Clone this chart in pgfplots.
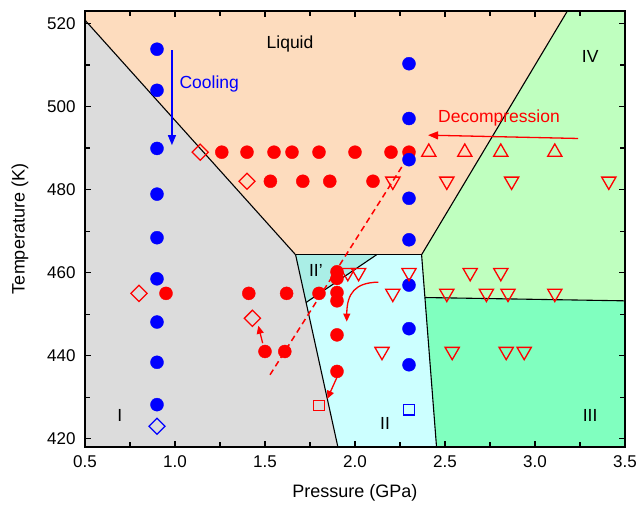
\documentclass[border=0pt]{standalone}
\usepackage{pgfplots}
\pgfplotsset{compat=1.18}
\usepackage{fontspec}
\setmainfont{Liberation Sans}
\usetikzlibrary{arrows.meta}
\definecolor{liq}{RGB}{253,220,190}
\definecolor{phI}{RGB}{220,220,220}
\definecolor{phII}{RGB}{204,255,255}
\definecolor{phIIp}{RGB}{170,238,230}
\definecolor{phIII}{RGB}{128,255,191}
\definecolor{phIV}{RGB}{191,255,191}
\definecolor{myred}{RGB}{255,0,0}
\definecolor{myblue}{RGB}{0,0,255}
\begin{document}
\begin{tikzpicture}
\useasboundingbox (-85pt,-57pt) rectangle (555pt,447pt);
\begin{axis}[
  scale only axis, width=540pt, height=436pt,
  xmin=0.5, xmax=3.5, ymin=418, ymax=523,
  axis on top,
  xtick={0.5,1.0,1.5,2.0,2.5,3.0,3.5},
  ytick={420,440,460,480,500,520},
  minor x tick num=1, minor y tick num=1,
  tick align=inside,
  major tick length=6pt, minor tick length=5pt,
  every tick/.style={black, line width=1.1pt},
  axis line style={line width=1.4pt},
  /pgf/number format/assume math mode=true,
  ticklabel style={font=\fontsize{17}{20}\selectfont},
  yticklabel style={xshift=-6pt},
  xticklabel style={yshift=-5pt, /pgf/number format/.cd, fixed, fixed zerofill, precision=1},
  label style={font=\fontsize{18}{21}\selectfont},
  xlabel={Pressure (GPa)},
  ylabel={Temperature (K)},
  xlabel style={at={(axis description cs:0.5,-0.1055)}, anchor=center},
  ylabel style={at={(axis description cs:-0.1204,0.5)}, anchor=center},
  clip=true,
]
% phase regions
\addplot[fill=liq, draw=none] coordinates {(0.5,523) (0.5,520.8) (1.67,464.3) (2.37,464.3) (3.18,523)} -- cycle;
\addplot[fill=phI, draw=none] coordinates {(0.5,418) (0.5,520.8) (1.67,464.3) (1.905,418)} -- cycle;
\addplot[fill=phII, draw=none] coordinates {(1.67,464.3) (2.37,464.3) (2.453,418) (1.905,418)} -- cycle;
\addplot[fill=phIIp, draw=none] coordinates {(1.67,464.3) (2.12,464.3) (1.728,452.8)} -- cycle;
\addplot[fill=phIV, draw=none] coordinates {(2.37,464.3) (3.18,523) (3.5,523) (3.5,453.2) (2.388,454.0)} -- cycle;
\addplot[fill=phIII, draw=none] coordinates {(2.388,454.0) (3.5,453.2) (3.5,418) (2.453,418)} -- cycle;
% boundaries
\addplot[black, line width=1.1pt] coordinates {(0.5,520.8) (1.67,464.3)};
\addplot[black, line width=0.7pt] coordinates {(1.67,464.3) (2.37,464.3)};
\addplot[black, line width=1.1pt] coordinates {(2.37,464.3) (3.18,523)};
\addplot[black, line width=1.1pt] coordinates {(1.67,464.3) (1.905,418)};
\addplot[black, line width=1.1pt] coordinates {(2.37,464.3) (2.453,418)};
\addplot[black, line width=1.1pt] coordinates {(2.388,454.0) (3.5,453.2)};
\addplot[black, line width=1.1pt] coordinates {(1.728,452.8) (2.12,464.3)};
% annotations
\draw[myred, line width=1.5pt, dash pattern=on 6pt off 4pt] (axis cs:1.528,435.4) -- (axis cs:2.29,487.5);
\draw[myblue, line width=1.3pt, -{Triangle[length=10pt,width=8pt]}] (axis cs:0.983,513.5) -- (axis cs:0.983,490.7);
\draw[myred, line width=1.3pt, -{Triangle[length=10pt,width=8pt]}] (axis cs:3.24,492.3) -- (axis cs:2.406,493.1);
\draw[myred, line width=1.3pt, -{Triangle[length=8pt,width=7pt]}] (axis cs:1.487,443.0) -- (axis cs:1.463,447.2);
\draw[myred, line width=1.3pt, -{Triangle[length=8pt,width=7pt]}] (axis cs:1.898,434.6) -- (axis cs:1.846,429.6);
\draw[myred, line width=1.3pt, -{Triangle[length=8pt,width=7pt]}] (axis cs:2.13,457.7) .. controls (axis cs:2.0,457.6) and (axis cs:1.955,455) .. (axis cs:1.954,448.2);
% data
\addplot[only marks, mark=*, mark size=6.5pt, myred, mark options={fill=myred, draw=myred}] coordinates {
(1.26,489) (1.40,489) (1.55,489) (1.65,489) (1.80,489) (2.00,489) (2.20,489) (2.30,489)
(1.53,482) (1.71,482) (1.86,482) (2.10,482)
(0.95,455) (1.41,455) (1.62,455) (1.80,455)
(1.90,460.2) (1.90,458.6) (1.90,455.2) (1.90,453.2) (1.90,445.0) (1.90,436.2)
(1.50,441) (1.61,441)};
\addplot[only marks, mark=*, mark size=6.5pt, myblue, mark options={fill=myblue, draw=myblue}] coordinates {
(0.9,513.8) (0.9,503.9) (0.9,489.9) (0.9,478.9) (0.9,468.4) (0.9,458.5) (0.9,448.1) (0.9,438.4) (0.9,428.2)
(2.3,510.3) (2.3,497.1) (2.3,487.2) (2.3,477.9) (2.3,467.9) (2.3,457.0) (2.3,446.5) (2.3,437.8)};
\addplot[only marks, mark=square, mark size=5.7pt, myred, mark options={rotate=45, line width=1.3pt, fill=none}] coordinates {
(1.14,489) (1.40,482) (0.80,455) (1.43,449)};
\addplot[only marks, mark=square, mark size=5.7pt, myblue, mark options={rotate=45, line width=1.3pt, fill=none}] coordinates {(0.9,423.0)};
\addplot[only marks, mark=square, mark size=5.3pt, myred, mark options={line width=1.3pt, fill=none}] coordinates {(1.80,428.0)};
\addplot[only marks, mark=square, mark size=5.3pt, myblue, mark options={line width=1.3pt, fill=none}] coordinates {(2.3,427.0)};
\addplot[only marks, mark=triangle, mark size=8.2pt, myred, mark options={line width=1.3pt, fill=none}] coordinates {
(2.41,489) (2.61,489) (2.81,489) (3.11,489)};
\addplot[only marks, mark=triangle, mark size=8.2pt, myred, mark options={rotate=180, line width=1.3pt, fill=none}] coordinates {
(2.21,482) (2.51,482) (2.87,482) (3.41,482)
(1.96,460) (2.02,460) (2.30,460) (2.64,460) (2.81,460)
(2.21,455) (2.51,455) (2.73,455) (2.85,455) (3.11,455)
(2.15,441) (2.54,441) (2.84,441) (2.94,441)};
% labels
\node[font=\fontsize{17.5}{20}\selectfont] at (axis cs:1.639,515.0) {Liquid};
\node[font=\fontsize{17.5}{20}\selectfont] at (axis cs:3.307,512.0) {IV};
\node[font=\fontsize{17.5}{20}\selectfont] at (axis cs:1.783,460.5) {II\textquoteright};
\node[font=\fontsize{17.5}{20}\selectfont] at (axis cs:0.694,425.6) {I};
\node[font=\fontsize{17.5}{20}\selectfont] at (axis cs:2.167,423.7) {II};
\node[font=\fontsize{17.5}{20}\selectfont] at (axis cs:3.306,425.6) {III};
\node[font=\fontsize{17.5}{20}\selectfont, text=myblue] at (axis cs:1.19,505.5) {Cooling};
\node[font=\fontsize{17.5}{20}\selectfont, text=myred] at (axis cs:2.80,497.3) {Decompression};
\end{axis}
\end{tikzpicture}
\end{document}
